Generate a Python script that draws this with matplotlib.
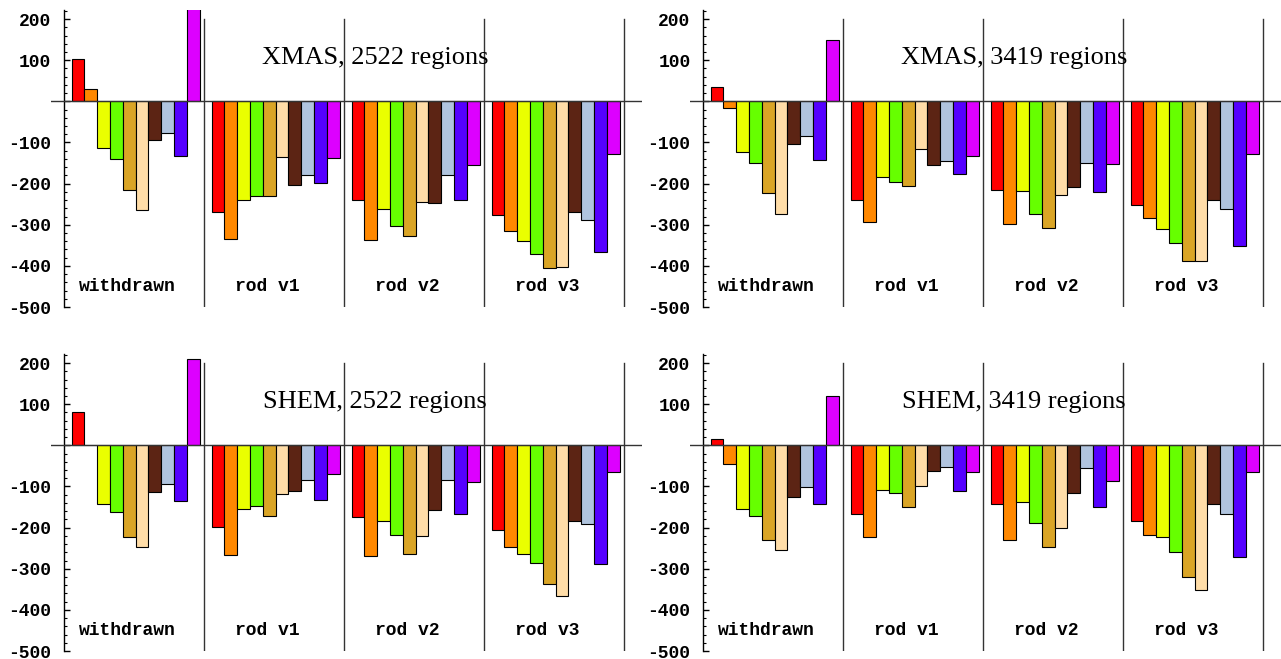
import numpy as np
import matplotlib
matplotlib.use("Agg")
import matplotlib.pyplot as plt
from matplotlib.ticker import MultipleLocator, FuncFormatter

plt.rcParams['axes.unicode_minus'] = False

groups = ["withdrawn", "rod v1", "rod v2", "rod v3"]
bar_colors = ["#FF0000", "#FF8800", "#EAFF00", "#66FF00", "#DAA526",
              "#FFDDA8", "#5C2414", "#B0C4DE", "#5500FF", "#DD00FF"]

# one row per group, 10 bars per row (colour order as above)
xmas_2522 = [
    [102, 29, -114, -141, -216, -265, -94, -77, -134, 240],
    [-270, -335, -239, -230, -230, -135, -204, -178, -198, -138],
    [-241, -338, -262, -302, -328, -244, -248, -179, -241, -155],
    [-277, -316, -339, -371, -405, -402, -270, -288, -367, -128],
]
xmas_3419 = [
    [36, -17, -123, -150, -222, -273, -104, -85, -142, 149],
    [-239, -294, -185, -197, -206, -115, -155, -146, -176, -132],
    [-215, -299, -219, -273, -307, -228, -208, -150, -221, -152],
    [-252, -284, -310, -345, -389, -389, -240, -262, -351, -128],
]
shem_2522 = [
    [81, 1, -142, -162, -222, -248, -113, -94, -135, 209],
    [-199, -266, -156, -147, -173, -118, -112, -84, -133, -70],
    [-175, -269, -183, -218, -264, -220, -158, -84, -168, -90],
    [-206, -247, -263, -286, -337, -366, -184, -191, -289, -64],
]
shem_3419 = [
    [15, -46, -154, -172, -230, -255, -125, -102, -142, 121],
    [-167, -222, -108, -115, -150, -98, -62, -53, -110, -66],
    [-142, -231, -138, -190, -246, -202, -115, -54, -150, -87],
    [-183, -218, -224, -259, -320, -352, -143, -167, -271, -64],
]

panels = [
    ("XMAS, 2522 regions", xmas_2522),
    ("XMAS, 3419 regions", xmas_3419),
    ("SHEM, 2522 regions", shem_2522),
    ("SHEM, 3419 regions", shem_3419),
]

W, H = 1281, 659
fig = plt.figure(figsize=(W / 100, H / 100), dpi=100)

unit = 140.0          # pixels per group
xlo, xhi = -0.09, 4.13
spine_px = [(64, 10, 307), (703, 10, 307), (64, 354, 651), (703, 354, 651)]

bar_w = 0.0914
offset = 0.055
mono = dict(family="Liberation Mono", weight="bold", size=13)

for (title, data), (sx, top, bot) in zip(panels, spine_px):
    left = sx + xlo * unit
    width = (xhi - xlo) * unit
    ax = fig.add_axes([left / W, (H - bot) / H, width / W, (bot - top) / H])
    vals = np.array(data, dtype=float)
    for g in range(len(groups)):
        x = g + offset + bar_w * (np.arange(10) + 0.5)
        ax.bar(x, vals[g], width=bar_w, color=bar_colors,
               edgecolor="black", linewidth=0.8, zorder=2)
        ax.text(g + 0.45, -451, groups[g], ha="center", va="center", **mono)
        ax.plot([g + 1, g + 1], [-500, 200], color="#333333", lw=1, zorder=3)
    ax.axhline(0, color="#333333", lw=1, zorder=3)
    ax.text(2.22, 90, title, ha="center", va="baseline",
            family="Liberation Serif", size=19, zorder=4)

    ax.set_xlim(xlo, xhi)
    ax.set_ylim(-500, 222)
    for s in ["top", "right", "bottom"]:
        ax.spines[s].set_visible(False)
    ax.spines["left"].set_position(("data", 0))
    ax.spines["left"].set_linewidth(1)
    ax.set_xticks([])
    ax.yaxis.set_major_locator(MultipleLocator(100))
    ax.yaxis.set_minor_locator(MultipleLocator(20))
    ax.yaxis.set_major_formatter(FuncFormatter(lambda v, p: "%d" % v if v != 0 else ""))
    ax.tick_params(axis="y", which="major", direction="in", length=4, width=1, pad=9)
    ax.tick_params(axis="y", which="minor", direction="in", length=2.5, width=0.8)
    for lab in ax.get_yticklabels():
        lab.set_fontfamily("Liberation Mono")
        lab.set_fontweight("bold")
        lab.set_fontsize(13)

fig.savefig("out.png", dpi=100)
